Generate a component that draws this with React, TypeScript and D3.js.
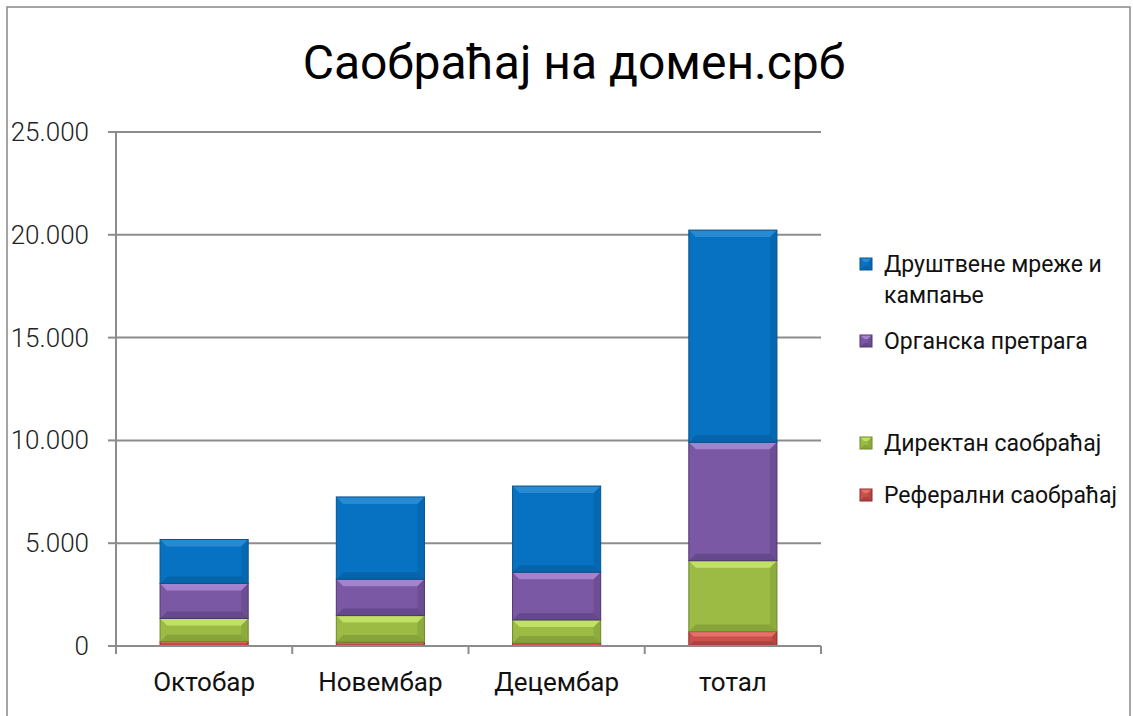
import React from "react";
import * as d3 from "d3";

const categories = ["Октобар", "Новембар", "Децембар", "тотал"];
const seriesNames = ["Реферални саобраћај", "Директан саобраћај", "Органска претрага", "Друштвене мреже и кампање"];
const referral = [210, 190, 140, 700];
const direct = [1130, 1290, 1130, 3450];
const organic = [1700, 1770, 2320, 5760];
const social = [2140, 4000, 4190, 10320];
const yTicks = [0, 5000, 10000, 15000, 20000, 25000];
const yTickLabels = ["0", "5.000", "10.000", "15.000", "20.000", "25.000"];

const palette = [
  { base: "#C9504C", light: "#EE7570", dark: "#8E2F2C" },
  { base: "#9BBB45", light: "#C8E66C", dark: "#6E8A2C" },
  { base: "#7A58A3", light: "#AC8AD6", dark: "#4E3672" },
  { base: "#0872C2", light: "#2E8ED6", dark: "#06548E" },
];

const FONT = "Roboto, 'Noto Sans', sans-serif";

function BevelRect({ x, y, w, h, c }: { x: number; y: number; w: number; h: number; c: any }) {
  const b = Math.max(0, Math.min(7, h / 3, w / 3));
  const x2 = x + w, y2 = y + h;
  return (
    <g>
      <rect x={x} y={y} width={w} height={h} fill={c.base} />
      {b > 0.5 && (
        <>
          <polygon points={`${x},${y} ${x2},${y} ${x2 - b},${y + b} ${x + b},${y + b}`} fill={c.light} opacity={0.85} />
          <polygon points={`${x2},${y} ${x2},${y2} ${x2 - b},${y2 - b} ${x2 - b},${y + b}`} fill={c.dark} opacity={0.3} />
          <polygon points={`${x},${y2} ${x + b},${y2 - b} ${x2 - b},${y2 - b} ${x2},${y2}`} fill={c.dark} opacity={0.45} />
        </>
      )}
      <rect x={x} y={y} width={w} height={h} fill="none" stroke={c.dark} strokeWidth={1} />
    </g>
  );
}

export default function App() {
  const x0 = 116, x1 = 821, yTop = 132, yBot = 646;
  const x = d3.scaleBand<string>().domain(categories).range([x0, x1]).paddingInner(0.5).paddingOuter(0.25);
  const y = d3.scaleLinear().domain([0, 25000]).range([yBot, yTop]);
  const rows = categories.map((cat, i) => ({
    cat,
    s0: referral[i],
    s1: direct[i],
    s2: organic[i],
    s3: social[i],
  }));
  const stack = d3.stack<any>().keys(["s0", "s1", "s2", "s3"]);
  const layers = stack(rows);

  const legendItems = [
    { si: 3, lines: ["Друштвене мреже и", "кампање"], y: 264 },
    { si: 2, lines: ["Органска претрага"], y: 341 },
    { si: 1, lines: ["Директан саобраћај"], y: 443 },
    { si: 0, lines: ["Реферални саобраћај"], y: 495 },
  ];
  const boundaries = [x0, ...categories.map((c) => (x(c) as number) + x.bandwidth() + (x.step() - x.bandwidth()) / 2)];

  return (
    <svg width={1133} height={716} style={{ position: "absolute", left: 0, top: 0 }} fontFamily={FONT}>
      <rect x={0} y={0} width={1133} height={716} fill="#fff" />
      <rect x={7} y={7} width={1123} height={720} fill="none" stroke="#888" strokeWidth={1.5} />
      <text x={574} y={79} textAnchor="middle" fontSize={48} fill="#000">Саобраћај на домен.срб</text>

      {yTicks.map((t, i) => (
        <g key={t}>
          {t > 0 && <line x1={x0} x2={x1} y1={y(t)} y2={y(t)} stroke="#8c8c8c" strokeWidth={2} />}
          <line x1={x0 - 8} x2={x0} y1={y(t)} y2={y(t)} stroke="#8c8c8c" strokeWidth={2} />
          <text x={89} y={y(t) + 9} textAnchor="end" fontSize={26} fontWeight={300} fill="#222">{yTickLabels[i]}</text>
        </g>
      ))}
      <line x1={x0} x2={x0} y1={yTop} y2={yBot} stroke="#8c8c8c" strokeWidth={2} />

      {layers.map((layer, li) =>
        layer.map((d, i) => {
          const bx = x(categories[i]) as number;
          const top = y(d[1]);
          const bot = y(d[0]);
          return <BevelRect key={`${li}-${i}`} x={bx} y={top} w={x.bandwidth()} h={bot - top} c={palette[li]} />;
        })
      )}

      <line x1={x0} x2={x1} y1={yBot} y2={yBot} stroke="#8c8c8c" strokeWidth={2} />
      {boundaries.map((bx, i) => (
        <line key={i} x1={bx} x2={bx} y1={yBot} y2={yBot + 8} stroke="#8c8c8c" strokeWidth={2} />
      ))}
      {categories.map((c) => (
        <text key={c} x={(x(c) as number) + x.bandwidth() / 2} y={691} textAnchor="middle" fontSize={26} fill="#111">{c}</text>
      ))}

      {legendItems.map((it) => (
        <g key={it.si}>
          <BevelRect x={860} y={it.y - 6} w={12} h={12} c={palette[it.si]} />
          {it.lines.map((ln, k) => (
            <text key={k} x={884} y={it.y + 8 + k * 31} fontSize={23} fill="#111">{ln}</text>
          ))}
        </g>
      ))}
    </svg>
  );
}
